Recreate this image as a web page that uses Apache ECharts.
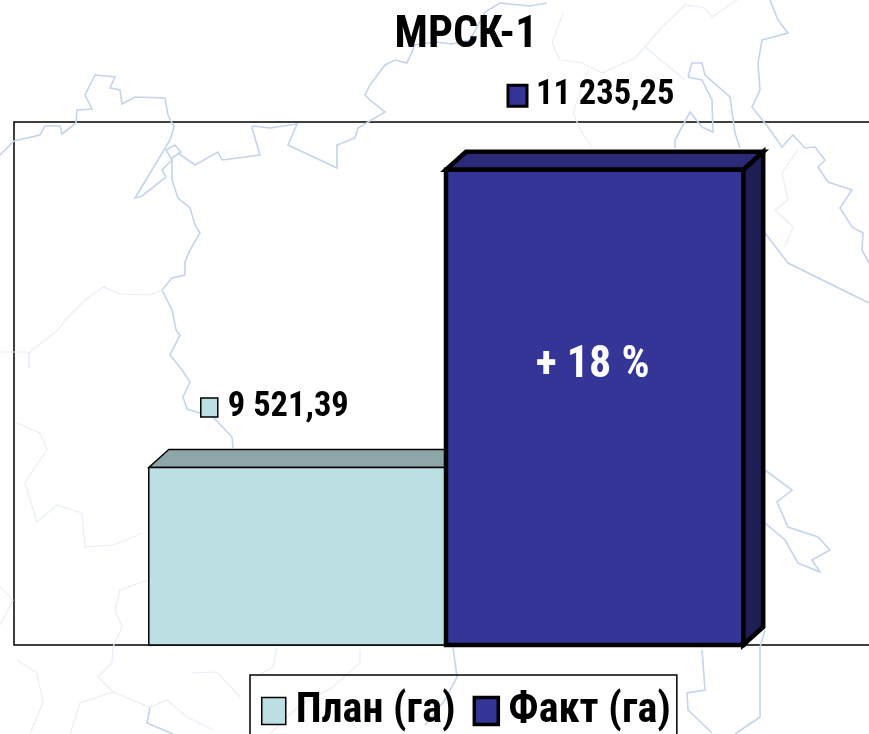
<!DOCTYPE html>
<html><head><meta charset="utf-8">
<style>html,body{margin:0;padding:0;background:#fff;overflow:hidden}#c{width:869px;height:734px}</style>
<script src="https://cdn.jsdelivr.net/npm/echarts@6/dist/echarts.min.js"></script>
</head><body><div id="c"></div>
<script>
const categories = ['МРСК-1'];
const seriesNames = ['План (га)', 'Факт (га)'];
const planValues = [9521.39];
const factValues = [11235.25];
const changeLabels = ['+ 18 %'];
const FONT = '"Roboto Condensed","Roboto",sans-serif';

// faint background map (decoration, not data)
const mapStrong = [
 [[0,155],[14,141],[40,135],[45,126],[60,126],[62,134],[76,123],[77,110],[92,109],[85,95],[95,75],[115,77],[110,88],[120,90],[122,104],[135,97],[165,98],[168,115],[174,127],[170,140],[155,165],[135,198],[142,196],[166,177],[162,170],[172,160],[166,150],[175,145],[181,152],[172,158],[172,180],[178,198],[190,208],[195,225],[200,233],[190,250],[185,262],[185,275],[172,278],[162,290],[172,310],[176,330],[180,335],[170,355],[182,370],[190,382],[183,397],[187,409],[213,417],[232,437],[233,448]],
 [[178,153],[195,165],[218,152],[222,160],[260,155],[252,128],[253,126],[270,128],[297,124],[288,145],[337,168],[337,145],[355,138],[358,128],[385,112],[370,100],[365,95],[370,85],[385,65],[395,60],[407,63],[415,45],[435,42],[452,44],[470,40],[485,12],[500,3],[530,6],[547,3]],
 [[770,0],[778,20],[788,33],[762,40],[758,63],[760,90],[752,107],[768,127],[782,147],[793,135],[805,148],[815,147],[825,160],[818,167],[828,182],[852,190],[840,208],[852,227],[863,233],[862,250],[869,263]],
 [[688,77],[692,63],[702,63],[705,75],[730,97],[735,133],[740,148]],
 [[688,77],[702,80],[712,100],[713,132],[702,127],[690,112],[675,140],[675,148]],
 [[765,233],[788,263],[869,303]],
 [[765,470],[792,490],[777,502],[788,527],[818,537],[830,550],[812,560],[820,572],[798,563],[785,540],[765,523]],
 [[702,650],[705,690],[687,693],[688,710],[712,733]],
 [[765,630],[760,647],[760,717],[735,734]],
 [[453,647],[457,677],[445,700],[425,725]],
 [[150,707],[147,723],[173,734]]
];
const mapFaint = [
 [[162,290],[150,295],[120,294],[103,287],[85,300],[65,320],[58,330],[45,340],[30,352],[28,368]],
 [[0,352],[28,352],[30,368]],
 [[563,13],[552,43],[560,60],[582,63],[602,73],[635,58],[645,47],[662,27],[685,5],[705,8],[712,17],[737,0]],
 [[645,47],[685,80]],
 [[588,70],[573,113],[582,133],[592,147]],
 [[798,150],[782,173],[788,200],[775,210],[793,227],[785,247]],
 [[17,423],[40,433],[47,450],[33,470],[25,483],[37,522],[57,505],[82,513],[85,547],[113,545],[143,533]],
 [[148,580],[120,590],[115,610],[122,627],[113,647],[112,663],[98,677],[113,692],[80,703],[70,734]],
 [[113,692],[150,707],[167,700],[187,717],[213,730]],
 [[192,673],[217,672],[240,697]],
 [[277,647],[273,667],[250,680]],
 [[0,587],[13,600],[0,625]],
 [[17,660],[37,673],[43,703],[30,734]],
 [[360,650],[360,663],[333,687],[300,705],[270,734]]
];
const line = (points, color, width) => ({
  type:'polyline', silent:true, z:0,
  shape:{points}, style:{fill:'none', stroke:color, lineWidth:width}
});

const fmt = v => {
  const [i,d] = v.toFixed(2).split('.');
  return i.replace(/\B(?=(\d{3})+$)/g,' ') + ',' + d;
};
const DX = 20, DY = 18, BAR_SHARE = 0.344, Y_MIN = 8500, Y_MAX = 11510;

function bar3d(cfg) {
  return function (params, api) {
    const v = api.value(1);
    const top = api.coord([api.value(0), v]);
    const base = api.coord([api.value(0), Y_MIN]);
    const w = api.size([1,0])[0] * BAR_SHARE;
    const x0 = top[0] + cfg.side * w, x1 = x0 + w, y0 = top[1], y1 = base[1];
    const st = f => ({fill:f, stroke:'#000', lineWidth:cfg.lw, lineJoin:'miter'});
    const children = [
      {type:'polygon', shape:{points:[[x1,y0],[x1+DX,y0-DY],[x1+DX,y1-DY],[x1,y1]]}, style:st(cfg.sideColor)},
      {type:'polygon', shape:{points:[[x0,y0],[x0+DX,y0-DY],[x1+DX,y0-DY],[x1,y0]]}, style:st(cfg.topColor)},
      {type:'rect', shape:{x:x0,y:y0,width:w,height:y1-y0}, style:st(cfg.color)},
      {type:'rect', shape:{x:x0+cfg.labelDx,y:y0-cfg.labelDy-cfg.key/2,width:cfg.key-2,height:cfg.key}, style:{fill:cfg.color,stroke:'#000',lineWidth:cfg.keyLw}},
      {type:'text', style:{x:x0+cfg.labelDx+cfg.key+cfg.keyGap,y:y0-cfg.labelDy,text:fmt(v),fill:'#000',font:'bold 34.5px '+FONT,verticalAlign:'middle',align:'left'}}
    ];
    if (cfg.note) children.push({type:'text', style:{x:x0+w/2-2,y:(y0+y1)/2-41,text:cfg.note,fill:'#fff',font:'bold 44px '+FONT,align:'center',verticalAlign:'middle'}});
    return {type:'group', children};
  };
}

const chart = echarts.init(document.getElementById('c'), null, {renderer:'canvas'});
chart.setOption({
  animation:false,
  backgroundColor:'#fff',
  title:{text:categories[0], left:461, top:9, textAlign:'center',
    textStyle:{fontFamily:FONT, fontSize:44, fontWeight:'bold', color:'#000'}},
  grid:{left:14, top:122, width:864, height:523, outerBoundsMode:'none', show:true, borderColor:'#000', borderWidth:1.5, backgroundColor:'transparent'},
  xAxis:{type:'category', data:categories, show:false},
  yAxis:{type:'value', min:Y_MIN, max:Y_MAX, show:false},
  legend:{left:250, top:675, orient:'horizontal', icon:'rect',
    padding:[15,6,30,11], itemGap:17, itemWidth:24, itemHeight:27,
    borderColor:'#000', borderWidth:1.5, backgroundColor:'transparent',
    textStyle:{fontFamily:FONT, fontSize:42, fontWeight:'bold', color:'#000', padding:[0,0,0,5]},
    data:[
      {name:seriesNames[0], itemStyle:{color:'#bbdfe2', borderColor:'#000', borderWidth:1.5}},
      {name:seriesNames[1], itemStyle:{color:'#353597', borderColor:'#000', borderWidth:3.5}}
    ]},
  graphic:{elements:[...mapStrong.map(p=>line(p,'#c4d4ec',1.6)), ...mapFaint.map(p=>line(p,'#e8eef8',1.2))]},
  series:[
    {type:'custom', name:seriesNames[0], z:3, coordinateSystem:'cartesian2d', encode:{x:0,y:1},
     data:categories.map((c,i)=>[i,planValues[i]]),
     renderItem:bar3d({side:-1,color:'#bbdfe2',topColor:'#8da6a8',sideColor:'#7d9597',lw:1.5,keyLw:1.5,labelDx:52,labelDy:60,key:19,keyGap:8})},
    {type:'custom', name:seriesNames[1], z:4, coordinateSystem:'cartesian2d', encode:{x:0,y:1},
     data:categories.map((c,i)=>[i,factValues[i]]),
     renderItem:bar3d({side:0,color:'#353597',topColor:'#2a2a78',sideColor:'#1e1e55',lw:4.5,keyLw:3,labelDx:62,labelDy:74,key:21,keyGap:7,note:changeLabels[0]})}
  ]
});
</script></body></html>
